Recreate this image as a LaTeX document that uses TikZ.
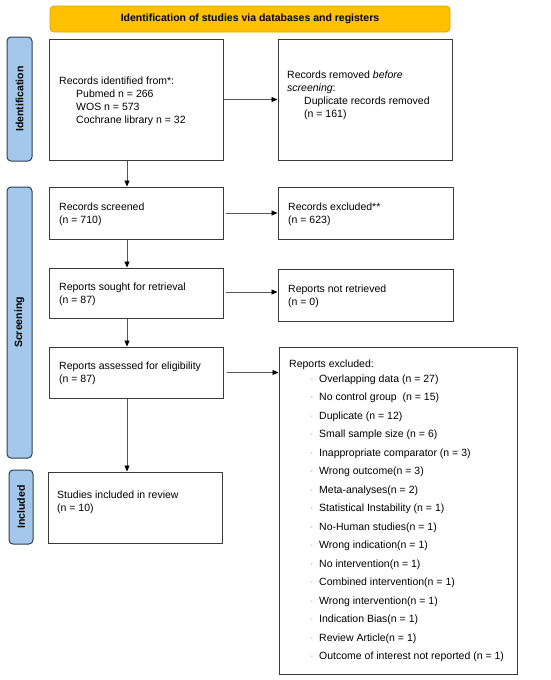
\documentclass[tikz,border=0pt]{standalone}
\usepackage{fontspec}
\setmainfont{Liberation Sans}
\usetikzlibrary{arrows.meta,calc}
\definecolor{bannerfill}{HTML}{FFC000}
\definecolor{bannerdraw}{HTML}{E0A400}
\definecolor{sidefill}{HTML}{A4C8EC}
\definecolor{sidedraw}{HTML}{2E3E50}
\definecolor{boxdraw}{HTML}{3A3A3A}
\definecolor{arrowgray}{HTML}{555555}
\newcommand{\itm}{\makebox[9pt][l]{\textcolor{gray!70}{·}}}
\begin{document}
\begin{tikzpicture}[x=1pt,y=-1pt,
  every node/.style={font=\fontsize{10.5}{13}\selectfont},
  flowbox/.style={draw=boxdraw,line width=1pt,fill=white,inner xsep=0pt,inner ysep=0pt,align=left,anchor=center},
  sidebar/.style={draw=sidedraw,line width=1pt,fill=sidefill,rounded corners=4pt,inner sep=0pt},
  sidelabel/.style={rotate=90,font=\fontsize{10.5}{13}\selectfont\bfseries},
  conn/.style={draw=arrowgray,line width=0.8pt,-{Triangle[length=6pt,width=5pt,fill=black,color=black]}}
]
\useasboundingbox (0,0) rectangle (550,680);

% banner
\node[draw=bannerdraw,line width=0.8pt,fill=bannerfill,rounded corners=4pt,minimum width=400pt,minimum height=26pt,inner sep=0pt,font=\fontsize{10.5}{13}\selectfont\bfseries] (banner) at (250,19) {Identification of studies via databases and registers};

% side bars
\node[sidebar,minimum width=25pt,minimum height=124pt] (sideid) at (19.5,99) {};
\node[sidelabel] (sideidl) at (sideid.center) {Identification};
\node[sidebar,minimum width=25pt,minimum height=271pt] (sidescr) at (19.5,322.5) {};
\node[sidelabel] (sidescrl) at (sidescr.center) {Screening};
\node[sidebar,minimum width=24pt,minimum height=74pt] (sideinc) at (21,507) {};
\node[sidelabel] (sideincl) at (sideinc.center) {Included};

% left column
\node[flowbox,minimum width=174pt,minimum height=121pt] (ident) at (136,99.5) {};
\node[anchor=north west,align=left,inner sep=0pt] (identt) at (59,76.5) {Records identified from*:\\\hspace*{17pt}Pubmed n = 266\\\hspace*{17pt}WOS n = 573\\\hspace*{17pt}Cochrane library n = 32};

\node[flowbox,minimum width=174pt,minimum height=52pt] (screened) at (136,213) {};
\node[anchor=north west,align=left,inner sep=0pt] (screenedt) at (59,202.5) {Records screened\\(n = 710)};

\node[flowbox,minimum width=174pt,minimum height=50pt] (sought) at (136,293) {};
\node[anchor=north west,align=left,inner sep=0pt] (soughtt) at (59,282.5) {Reports sought for retrieval\\(n = 87)};

\node[flowbox,minimum width=174pt,minimum height=51pt] (assessed) at (136,372.5) {};
\node[anchor=north west,align=left,inner sep=0pt] (assessedt) at (59,361.5) {Reports assessed for eligibility\\(n = 87)};

\node[flowbox,minimum width=174pt,minimum height=71pt] (included) at (135,507.5) {};
\node[anchor=north west,align=left,inner sep=0pt] (includedt) at (57,490.5) {Studies included in review\\(n = 10)};

% right column
\node[flowbox,minimum width=174pt,minimum height=121pt] (removed) at (365,99.5) {};
\node[anchor=north west,align=left,inner sep=0pt] (removedt) at (287,70.5) {Records removed \textit{before}\\\textit{screening}:\\\hspace*{17pt}Duplicate records removed\\\hspace*{17pt}(n = 161)};

\node[flowbox,minimum width=175pt,minimum height=52pt] (excluded) at (365.5,213) {};
\node[anchor=north west,align=left,inner sep=0pt] (excludedt) at (288,202.5) {Records excluded**\\(n = 623)};

\node[flowbox,minimum width=175pt,minimum height=52pt] (notret) at (365.5,295) {};
\node[anchor=north west,align=left,inner sep=0pt] (notrett) at (288,284.5) {Reports not retrieved\\(n = 0)};

\node[flowbox,minimum width=238pt,minimum height=327pt] (repexcl) at (398,510.5) {};
\node[anchor=north west,align=left,inner sep=0pt] (repexclt) at (289,359.5) {Reports excluded:\\[2pt]
\hspace*{21pt}\itm Overlapping data (n = 27)\\[5.5pt]
\hspace*{21pt}\itm No control group~ (n = 15)\\[5.5pt]
\hspace*{21pt}\itm Duplicate (n = 12)\\[5.5pt]
\hspace*{21pt}\itm Small sample size (n = 6)\\[5.5pt]
\hspace*{21pt}\itm Inappropriate comparator (n = 3)\\[5.5pt]
\hspace*{21pt}\itm Wrong outcome(n = 3)\\[5.5pt]
\hspace*{21pt}\itm Meta-analyses(n = 2)\\[5.5pt]
\hspace*{21pt}\itm Statistical Instability (n = 1)\\[5.5pt]
\hspace*{21pt}\itm No-Human studies(n = 1)\\[5.5pt]
\hspace*{21pt}\itm Wrong indication(n = 1)\\[5.5pt]
\hspace*{21pt}\itm No intervention(n = 1)\\[5.5pt]
\hspace*{21pt}\itm Combined intervention(n = 1)\\[5.5pt]
\hspace*{21pt}\itm Wrong intervention(n = 1)\\[5.5pt]
\hspace*{21pt}\itm Indication Bias(n = 1)\\[5.5pt]
\hspace*{21pt}\itm Review Article(n = 1)\\[5.5pt]
\hspace*{21pt}\itm Outcome of interest not reported (n = 1)};

% connectors
\coordinate (colx) at (127,0);
\draw[conn] (ident.south -| colx) -- (screened.north -| colx);
\draw[conn] (screened.south -| colx) -- (sought.north -| colx);
\draw[conn] (sought.south -| colx) -- (assessed.north -| colx);
\draw[conn] (assessed.south -| colx) -- (included.north -| colx);

\draw[conn] (ident.east) -- (ident.east -| removed.west);
\draw[conn] ([xshift=2pt]screened.east) -- (screened.east -| excluded.west);
\draw[conn] ([xshift=2pt,yshift=1pt]sought.east) -- ([yshift=1pt]sought.east -| notret.west);
\draw[conn] ([xshift=3pt]assessed.east) -- (assessed.east -| repexcl.west);
\end{tikzpicture}
\end{document}
